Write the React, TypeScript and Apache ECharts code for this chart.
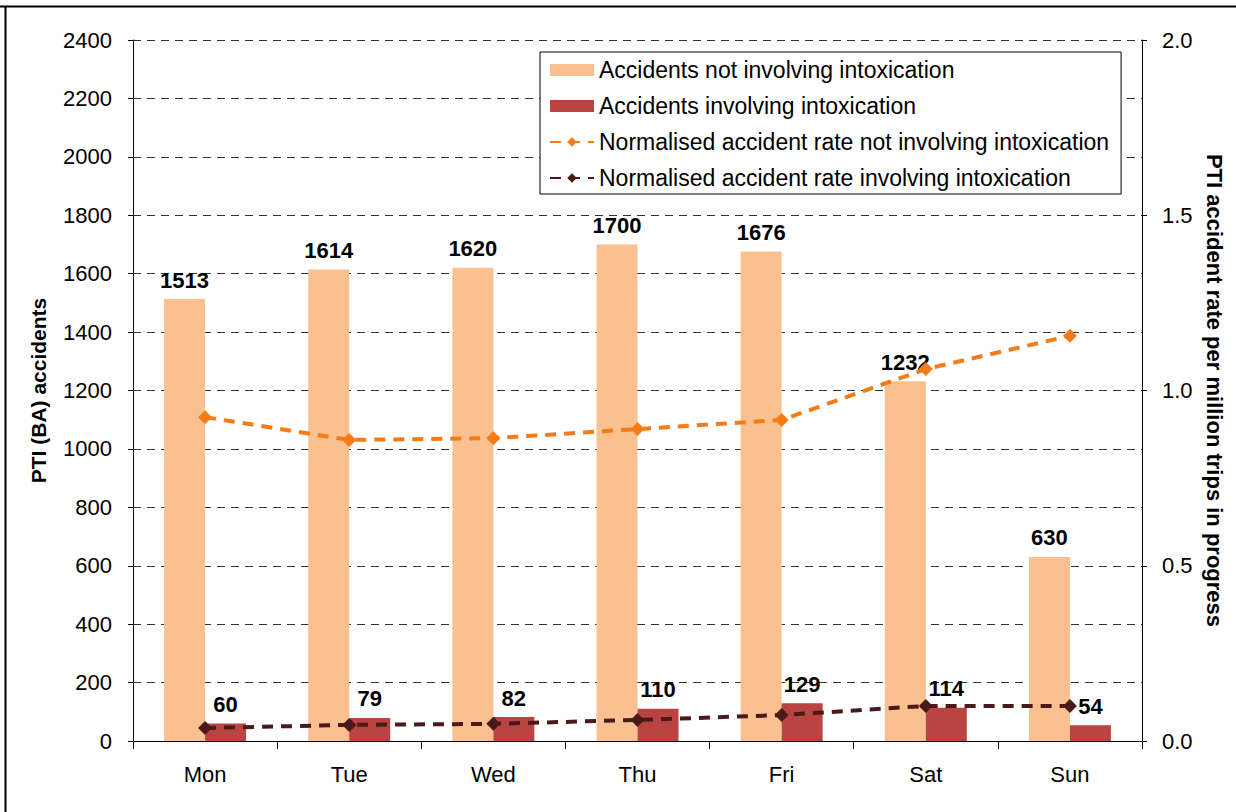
import React, { useEffect, useRef } from "react";
import * as echarts from "echarts";

const days = ["Mon", "Tue", "Wed", "Thu", "Fri", "Sat", "Sun"];
const notIntox = [1513, 1614, 1620, 1700, 1676, 1232, 630];
const intox = [60, 79, 82, 110, 129, 114, 54];
const rateNotIntox = [0.924, 0.859, 0.864, 0.89, 0.916, 1.061, 1.156];
const rateIntox = [0.037, 0.046, 0.049, 0.06, 0.074, 0.1, 0.1];

const FONT = "'Liberation Sans', Arial, sans-serif";

export default function App() {
  const ref = useRef<HTMLDivElement>(null);
  useEffect(() => {
    if (!ref.current) return;
    const chart = echarts.init(ref.current, null, { renderer: "svg" });
    const labelStyle = {
      show: true,
      position: "top",
      distance: 8,
      fontSize: 22,
      fontWeight: "bold",
      color: "#000",
      fontFamily: FONT,
    };
    chart.setOption({
      animation: false,
      backgroundColor: "#fff",
      textStyle: { fontFamily: FONT },
      grid: { left: 133, right: 94, top: 40, bottom: 71, containLabel: false },
      legend: {
        orient: "vertical",
        left: 540,
        top: 52,
        width: 580,
        padding: [5, 12, 3, 9],
        borderColor: "#000",
        borderWidth: 1,
        backgroundColor: "#fff",
        itemWidth: 44,
        itemHeight: 12,
        itemGap: 10,
        textStyle: { fontSize: 23, color: "#000", fontFamily: FONT, lineHeight: 26 },
        data: [
          { name: "Accidents not involving intoxication", icon: "rect" },
          { name: "Accidents involving intoxication", icon: "rect" },
          { name: "Normalised accident rate not involving intoxication" },
          { name: "Normalised accident rate involving intoxication" },
        ],
      },
      xAxis: {
        type: "category",
        data: days,
        axisLine: { lineStyle: { color: "#000", width: 1 } },
        axisTick: { show: true, length: 8, lineStyle: { color: "#000" } },
        axisLabel: { fontSize: 22, color: "#000", margin: 22, fontFamily: FONT },
      },
      yAxis: [
        {
          type: "value",
          min: 0,
          max: 2400,
          interval: 200,
          name: "PTI (BA) accidents",
          nameLocation: "middle",
          nameGap: 84,
          nameRotate: 90,
          nameTextStyle: { fontSize: 21, fontWeight: "bold", color: "#000", fontFamily: FONT },
          axisLine: { show: true, lineStyle: { color: "#000" } },
          axisTick: { show: true, length: 5, lineStyle: { color: "#000" } },
          axisLabel: {
            fontSize: 22,
            color: "#000",
            margin: 21,
            fontFamily: FONT,
            formatter: (v: number) => String(v),
          },
          splitLine: { show: true, lineStyle: { color: "#333", type: [8, 6], width: 1 } },
        },
        {
          type: "value",
          min: 0,
          max: 2,
          interval: 0.5,
          position: "right",
          name: "PTI accident rate per million trips in progress",
          nameLocation: "middle",
          nameGap: 57,
          nameRotate: -90,
          nameTextStyle: { fontSize: 22, fontWeight: "bold", color: "#000", fontFamily: FONT },
          axisLine: { show: true, lineStyle: { color: "#000" } },
          axisTick: { show: true, length: 5, lineStyle: { color: "#000" } },
          axisLabel: {
            fontSize: 22,
            color: "#000",
            margin: 20,
            fontFamily: FONT,
            formatter: (v: number) => v.toFixed(1),
          },
          splitLine: { show: false },
        },
      ],
      series: [
        {
          name: "Accidents not involving intoxication",
          type: "bar",
          data: notIntox,
          barWidth: 41,
          barGap: "0%",
          itemStyle: { color: "#FAC090" },
          label: labelStyle,
        },
        {
          name: "Accidents involving intoxication",
          type: "bar",
          data: intox,
          barWidth: 41,
          barGap: "0%",
          itemStyle: { color: "#B94441" },
          label: labelStyle,
        },
        {
          name: "Normalised accident rate not involving intoxication",
          type: "line",
          yAxisIndex: 1,
          data: rateNotIntox,
          symbol: "diamond",
          symbolSize: 14,
          itemStyle: { color: "#F47B16" },
          lineStyle: { color: "#F47B16", width: 4, type: [11, 8] },
          z: 5,
        },
        {
          name: "Normalised accident rate involving intoxication",
          type: "line",
          yAxisIndex: 1,
          data: rateIntox,
          symbol: "diamond",
          symbolSize: 14,
          itemStyle: { color: "#4A1A1A" },
          lineStyle: { color: "#4A1A1A", width: 4, type: [11, 8] },
          z: 5,
        },
      ],
      graphic: [
        { type: "line", shape: { x1: 0, y1: 6.5, x2: 1236, y2: 6.5 }, style: { stroke: "#000", lineWidth: 2 } },
        { type: "line", shape: { x1: 5.5, y1: 6, x2: 5.5, y2: 812 }, style: { stroke: "#000", lineWidth: 2 } },
      ],
    });
    return () => chart.dispose();
  }, []);
  return (
    <div
      ref={ref}
      style={{ position: "absolute", left: 0, top: 0, width: 1236, height: 812 }}
    />
  );
}
